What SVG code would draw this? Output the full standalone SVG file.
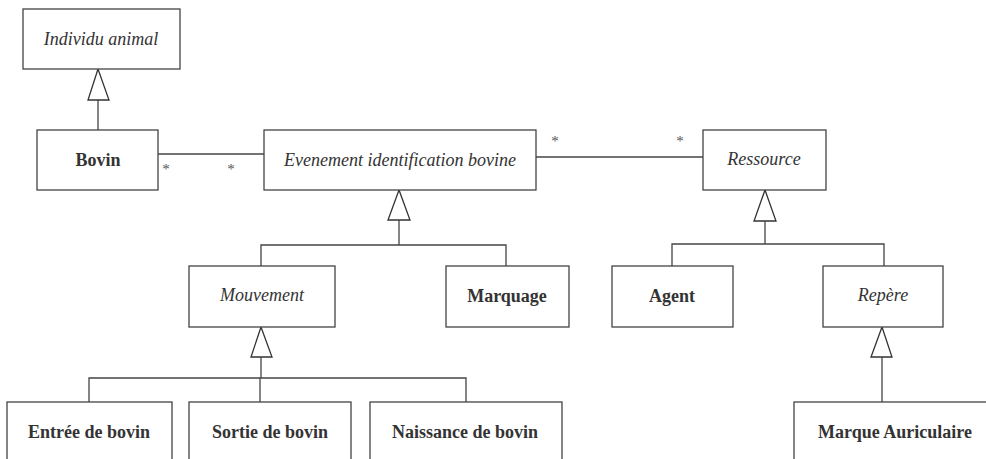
<svg xmlns="http://www.w3.org/2000/svg" width="986" height="459" viewBox="0 0 986 459">
<style>
.box{fill:#fff;stroke:#444;stroke-width:1.3}
.ln{fill:none;stroke:#444;stroke-width:1.3}
.tri{fill:#fff;stroke:#333;stroke-width:1.3}
.t{font-family:'Liberation Serif',serif !important;font-size:18px;fill:#333;text-anchor:middle}
.i{font-style:italic}
.b{font-weight:bold}
.star{font-family:'Liberation Serif',serif !important;font-size:15px;fill:#555;text-anchor:middle}
</style>
<rect width="986" height="459" fill="#fff"/>
<g id="connectors">
<line class="ln" x1="98" y1="100" x2="98" y2="130"/>
<polygon class="tri" points="98,69 88,100 109,100"/>
<line class="ln" x1="158" y1="154" x2="264" y2="154"/>
<polygon class="tri" points="399,190 388,220 410,220"/>
<polyline class="ln" points="399,220 399,245"/>
<polyline class="ln" points="261,266 261,245 506,245 506,266"/>
<line class="ln" x1="536" y1="157" x2="703" y2="157"/>
<polygon class="tri" points="765,190 754,221 776,221"/>
<polyline class="ln" points="765,221 765,244"/>
<polyline class="ln" points="672,266 672,244 884,244 884,266"/>
<polygon class="tri" points="261,327 251,357 272,357"/>
<polyline class="ln" points="261,357 261,378"/>
<polyline class="ln" points="89,402 89,378 466,378 466,402"/>
<line class="ln" x1="260" y1="378" x2="260" y2="402"/>
<polygon class="tri" points="882,327 871,357 892,357"/>
<polyline class="ln" points="882,357 882,402"/>
<text class="star" style="font-family:'Liberation Serif',serif" x="166" y="174">*</text>
<text class="star" style="font-family:'Liberation Serif',serif" x="231" y="174">*</text>
<text class="star" style="font-family:'Liberation Serif',serif" x="555" y="146">*</text>
<text class="star" style="font-family:'Liberation Serif',serif" x="680" y="146">*</text>
</g>
<g id="individu"><rect class="box" x="23" y="9" width="157" height="60"/><text class="t i" style="font-family:'Liberation Serif',serif" x="101" y="45">Individu animal</text></g>
<g id="bovin"><rect class="box" x="37" y="130" width="121" height="60"/><text class="t b" style="font-family:'Liberation Serif',serif" x="98" y="166">Bovin</text></g>
<g id="evenement"><rect class="box" x="264" y="130" width="272" height="60"/><text class="t i" style="font-family:'Liberation Serif',serif" x="400" y="166">Evenement identification bovine</text></g>
<g id="ressource"><rect class="box" x="703" y="130" width="123" height="60"/><text class="t i" style="font-family:'Liberation Serif',serif" x="764" y="165">Ressource</text></g>
<g id="mouvement"><rect class="box" x="189" y="266" width="146" height="61"/><text class="t i" style="font-family:'Liberation Serif',serif" x="262" y="301">Mouvement</text></g>
<g id="marquage"><rect class="box" x="446" y="266" width="123" height="61"/><text class="t b" style="font-family:'Liberation Serif',serif" x="507" y="302">Marquage</text></g>
<g id="agent"><rect class="box" x="612" y="266" width="121" height="61"/><text class="t b" style="font-family:'Liberation Serif',serif" x="672" y="302">Agent</text></g>
<g id="repere"><rect class="box" x="823" y="266" width="120" height="61"/><text class="t i" style="font-family:'Liberation Serif',serif" x="883" y="301">Repère</text></g>
<g id="entree"><rect class="box" x="7" y="402" width="165" height="70"/><text class="t b" style="font-family:'Liberation Serif',serif" x="89" y="438">Entrée de bovin</text></g>
<g id="sortie"><rect class="box" x="189" y="402" width="162" height="70"/><text class="t b" style="font-family:'Liberation Serif',serif" x="270" y="438">Sortie de bovin</text></g>
<g id="naissance"><rect class="box" x="370" y="402" width="192" height="70"/><text class="t b" style="font-family:'Liberation Serif',serif" x="465" y="438">Naissance de bovin</text></g>
<g id="marque"><rect class="box" x="794" y="402" width="220" height="70"/><text class="t b" style="font-family:'Liberation Serif',serif" x="895" y="438">Marque Auriculaire</text></g>
</svg>
